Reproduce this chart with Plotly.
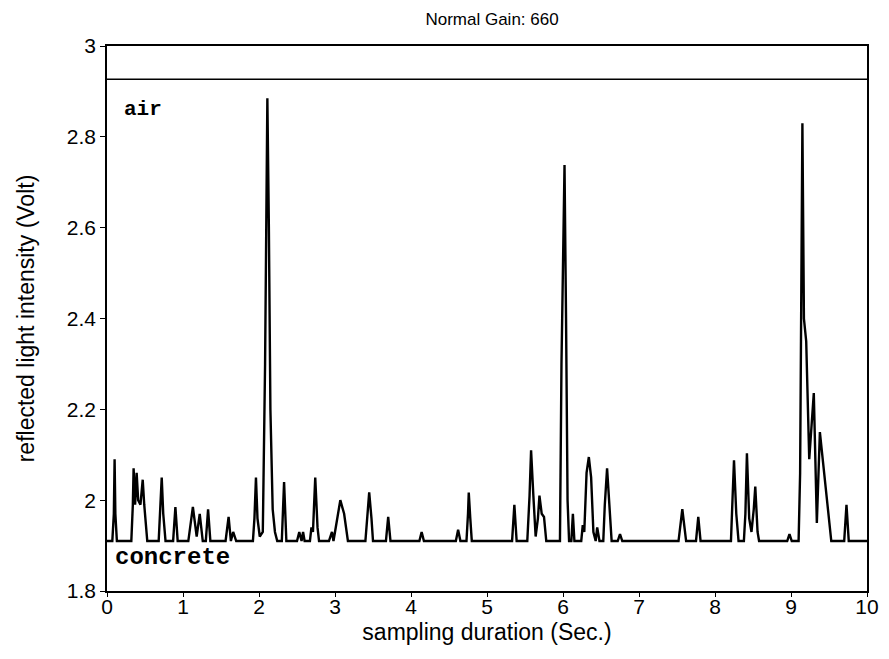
import plotly.graph_objects as go

# Vertices of the recorded trace (sampling time in s, reflected light intensity in V)
time_s = [
    0.00, 0.07, 0.09, 0.10, 0.11, 0.13,
    0.32, 0.34, 0.35, 0.37, 0.39, 0.41, 0.44, 0.47, 0.49, 0.53,
    0.68, 0.70, 0.72, 0.74, 0.77,
    0.87, 0.90, 0.93,
    1.07, 1.13, 1.18, 1.22, 1.26,
    1.30, 1.33, 1.36,
    1.56, 1.60, 1.63, 1.66, 1.70,
    1.92, 1.94, 1.96, 1.98, 2.01,
    2.05, 2.08, 2.11, 2.13, 2.15, 2.18, 2.21, 2.24,
    2.30, 2.33, 2.36,
    2.50, 2.53, 2.56, 2.58, 2.60,
    2.67, 2.69, 2.71, 2.74, 2.77, 2.79,
    2.92, 2.96, 2.98, 3.00, 3.07, 3.12, 3.17,
    3.40, 3.43, 3.45, 3.48, 3.50,
    3.67, 3.70, 3.73,
    4.11, 4.14, 4.17,
    4.59, 4.62, 4.65,
    4.73, 4.75, 4.76, 4.78, 4.80,
    5.33, 5.36, 5.39,
    5.53, 5.56, 5.58, 5.61, 5.64, 5.67, 5.69, 5.72, 5.75, 5.78,
    5.96, 5.98, 6.02, 6.04, 6.06, 6.08,
    6.11, 6.13, 6.15,
    6.24, 6.26, 6.28, 6.31, 6.34, 6.37, 6.40, 6.43, 6.45, 6.48,
    6.53, 6.55, 6.58, 6.61, 6.64,
    6.72, 6.75, 6.78,
    7.52, 7.57, 7.62,
    7.75, 7.78, 7.81,
    8.21, 8.23, 8.25, 8.28, 8.31,
    8.38, 8.40, 8.42, 8.45, 8.48, 8.51, 8.53, 8.56, 8.58,
    8.95, 8.98, 9.01,
    9.10, 9.12, 9.15, 9.17, 9.20, 9.24, 9.30, 9.34, 9.38, 9.41, 9.43, 9.47, 9.53,
    9.70, 9.73, 9.76,
    10.00,
]
intensity_v = [
    1.91, 1.91, 1.97, 2.09, 1.97, 1.91,
    1.91, 1.99, 2.07, 1.99, 2.06, 2.00, 1.99, 2.045, 1.99, 1.91,
    1.91, 1.97, 2.05, 1.97, 1.91,
    1.91, 1.985, 1.91,
    1.91, 1.985, 1.92, 1.97, 1.91,
    1.91, 1.98, 1.91,
    1.91, 1.963, 1.91, 1.93, 1.91,
    1.91, 1.96, 2.05, 1.96, 1.92,
    1.93, 2.30, 2.885, 2.60, 2.20, 1.98, 1.93, 1.91,
    1.91, 2.04, 1.91,
    1.91, 1.93, 1.91, 1.93, 1.91,
    1.91, 1.94, 1.93, 2.05, 1.94, 1.91,
    1.91, 1.93, 1.91, 1.93, 2.00, 1.97, 1.91,
    1.91, 1.97, 2.017, 1.96, 1.91,
    1.91, 1.963, 1.91,
    1.91, 1.93, 1.91,
    1.91, 1.935, 1.91,
    1.91, 1.97, 2.017, 1.96, 1.91,
    1.91, 1.99, 1.91,
    1.91, 2.01, 2.11, 2.01, 1.92, 1.96, 2.01, 1.97, 1.963, 1.91,
    1.91, 2.30, 2.738, 2.40, 2.00, 1.91,
    1.91, 1.97, 1.91,
    1.91, 1.945, 1.93, 2.06, 2.095, 2.05, 1.93, 1.91, 1.94, 1.91,
    1.91, 1.99, 2.07, 1.99, 1.91,
    1.91, 1.925, 1.91,
    1.91, 1.98, 1.91,
    1.91, 1.963, 1.91,
    1.91, 2.00, 2.088, 1.97, 1.91,
    1.91, 1.97, 2.103, 1.96, 1.93, 1.98, 2.03, 1.93, 1.91,
    1.91, 1.925, 1.91,
    1.91, 2.06, 2.83, 2.40, 2.35, 2.09, 2.236, 1.95, 2.15, 2.10, 2.08, 2.00, 1.91,
    1.91, 1.99, 1.91,
    1.91,
]

air_level = 2.927
x_ticks = [0, 1, 2, 3, 4, 5, 6, 7, 8, 9, 10]
y_ticks = [1.8, 2.0, 2.2, 2.4, 2.6, 2.8, 3.0]
y_tick_text = ["1.8", "2", "2.2", "2.4", "2.6", "2.8", "3"]

fig = go.Figure()
fig.add_trace(go.Scatter(
    x=time_s, y=intensity_v, mode="lines",
    line=dict(color="black", width=2.4),
    showlegend=False, hoverinfo="skip",
))
fig.add_shape(type="line", xref="paper", x0=0, x1=1, yref="y", y0=air_level, y1=air_level,
              line=dict(color="black", width=1.5))

fig.add_annotation(x=0.2, y=2.86, xref="x", yref="y", text="<b>air</b>", showarrow=False,
                   xanchor="left", yanchor="middle",
                   font=dict(family="Liberation Mono, DejaVu Sans Mono, monospace", size=21, color="black"))
fig.add_annotation(x=0.08, y=1.873, xref="x", yref="y", text="<b>concrete</b>", showarrow=False,
                   xanchor="left", yanchor="middle",
                   font=dict(family="Liberation Mono, DejaVu Sans Mono, monospace", size=24, color="black"))

fig.update_layout(
    width=889, height=659,
    margin=dict(l=99, r=30, t=38, b=76, autoexpand=False),
    paper_bgcolor="white", plot_bgcolor="white",
    font=dict(family="Liberation Sans, Arial, sans-serif", color="black"),
    title=dict(text="Normal Gain: 660", x=0.5445, xanchor="center",
               y=1 - 5 / 659, yanchor="top", font=dict(size=17, color="black")),
    xaxis=dict(range=[0, 10], tickvals=x_ticks, ticks="outside", ticklen=4, tickwidth=1.2,
               tickcolor="black", showline=True, linecolor="black", linewidth=1.5, mirror=True,
               showgrid=False, zeroline=False, tickfont=dict(size=21), automargin=False,
               ticklabelstandoff=-8,
               title=dict(text="sampling duration (Sec.)", font=dict(size=23), standoff=7)),
    yaxis=dict(range=[1.8, 3.0], tickvals=y_ticks, ticktext=y_tick_text, ticks="outside", ticklen=5,
               tickwidth=1.2, tickcolor="black", showline=True, linecolor="black", linewidth=1.5,
               mirror=True, showgrid=False, zeroline=False, tickfont=dict(size=21), automargin=False,
               title=dict(text="reflected light intensity (Volt)", font=dict(size=23), standoff=26)),
)

fig.write_html("out.html")
